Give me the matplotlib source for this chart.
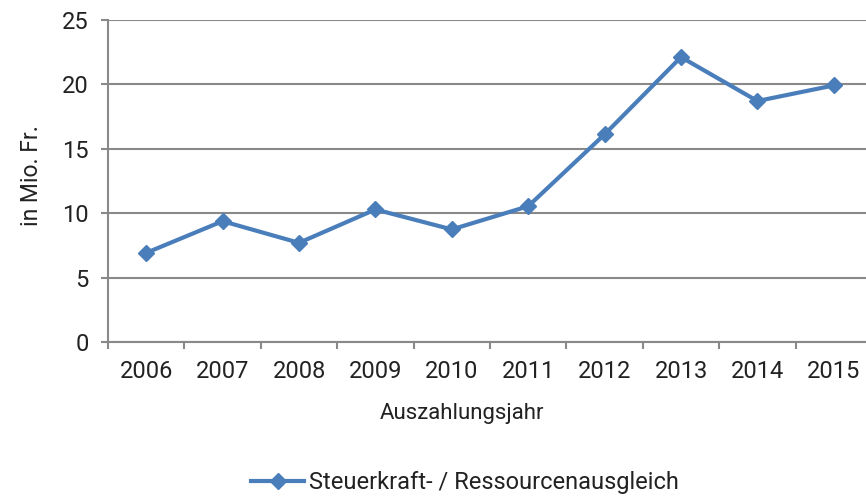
import matplotlib.pyplot as plt
import numpy as np

years = ['2006', '2007', '2008', '2009', '2010', '2011', '2012', '2013', '2014', '2015']
values = [6.92, 9.38, 7.70, 10.29, 8.74, 10.54, 16.12, 22.12, 18.71, 19.92]
series_name = 'Steuerkraft- / Ressourcenausgleich'
y_ticks = [0, 5, 10, 15, 20, 25]

plt.rcParams['font.family'] = ['Roboto', 'DejaVu Sans']

line_color = '#4A7EBB'
grid_color = '#898989'
text_color = '#222222'

fig = plt.figure(figsize=(8.66, 4.96), dpi=100)
ax = fig.add_axes([108 / 866, 1 - 342 / 496, 764 / 866, 322 / 496])

x = np.arange(len(years))
ax.plot(x, values, color=line_color, linewidth=3, marker='D', markersize=8,
        label=series_name, zorder=3)

ax.set_xlim(-0.5, len(years) - 0.5)
ax.set_ylim(0, 25)
ax.set_yticks(y_ticks)
ax.set_yticklabels([str(t) for t in y_ticks])
ax.set_xticks(x)
ax.set_xticklabels(years)
ax.set_xticks(np.arange(len(years) + 1) - 0.5, minor=True)

ax.grid(axis='y', color=grid_color, linewidth=1.5, zorder=0)
for side in ['top', 'right']:
    ax.spines[side].set_visible(False)
for side in ['left', 'bottom']:
    ax.spines[side].set_color(grid_color)
    ax.spines[side].set_linewidth(1.5)

ax.tick_params(axis='y', length=5, width=1.5, color=grid_color, pad=9,
               labelsize=17, labelcolor=text_color)
ax.tick_params(axis='x', which='major', length=0, pad=13,
               labelsize=17, labelcolor=text_color)
ax.tick_params(axis='x', which='minor', length=5, width=1.5, color=grid_color)

fig.text(462 / 866, 1 - 414 / 496, 'Auszahlungsjahr', ha='center', va='center',
         fontsize=16, color=text_color)
fig.text(31 / 866, 1 - 176 / 496, 'in Mio. Fr.', ha='center', va='center',
         rotation=90, fontsize=16.5, color=text_color)

fig.legend(loc='center', bbox_to_anchor=(465 / 866, 1 - 483 / 496), frameon=False,
           fontsize=17, handlelength=2.25, handletextpad=0.2, labelcolor=text_color)

fig.savefig('out.png', dpi=100)
